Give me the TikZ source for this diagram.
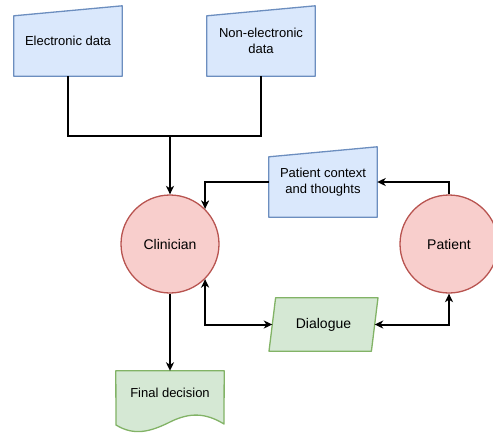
\documentclass[tikz,border=0pt]{standalone}
\usepackage{fontspec}
\setmainfont{Liberation Sans}
\usetikzlibrary{arrows.meta,calc}
\definecolor{bluefill}{HTML}{DAE8FC}
\definecolor{bluedraw}{HTML}{6C8EBF}
\definecolor{redfill}{HTML}{F8CECC}
\definecolor{reddraw}{HTML}{B85450}
\definecolor{greenfill}{HTML}{D5E8D4}
\definecolor{greendraw}{HTML}{82B366}
\begin{document}
\begin{tikzpicture}[x=1pt,y=-1pt,
  databox/.style={minimum width=108pt,minimum height=70pt,inner sep=0pt,align=center,
    font=\fontsize{13}{16.5}\selectfont},
  actor/.style={circle,draw=reddraw,fill=redfill,line width=1.3pt,minimum size=98pt,
    inner sep=0pt,font=\fontsize{14}{17}\selectfont},
  blueshape/.style={draw=bluedraw,fill=bluefill,line width=1.3pt,line join=round},
  greenshape/.style={draw=greendraw,fill=greenfill,line width=1.3pt,line join=round},
  flow/.style={line width=2pt,black},
  tip/.style={-{Stealth[length=8.5pt,width=8pt,inset=2.5pt]}},
  twotip/.style={{Stealth[length=8.5pt,width=8pt,inset=2.5pt]}-{Stealth[length=8.5pt,width=8pt,inset=2.5pt]}}]
\useasboundingbox (0,0) rectangle (493,432);

% manual-input data sources
\node[databox] (ed) at (68,41) {};
\node[databox] (ned) at (261,41) {};
\node[databox] (pc) at (323,182) {};
\foreach \n in {ed,ned,pc}
  \fill[blueshape] (\n.south west) -- ($(\n.north west)+(0,10)$) -- (\n.north east)
    -- (\n.south east) -- cycle;
\node[databox] at (ed) {Electronic data};
\node[databox] at (ned) {Non-electronic\\data};
\node[databox] at (pc) {Patient context\\and thoughts};

% actors
\node[actor] (cl) at (170,244) {Clinician};
\node[actor] (pt) at (449,244) {Patient};

% dialogue (parallelogram)
\node[minimum width=102pt,minimum height=53pt,inner sep=0pt] (dl) at (323.5,324.5) {};
\fill[greenshape] ($(dl.south west)+(-3.3,0)$) -- ($(dl.north west)+(3.3,0)$)
  -- ($(dl.north east)+(3.3,0)$) -- ($(dl.south east)+(-3.3,0)$) -- cycle;
\node[font=\fontsize{14}{17}\selectfont] at (dl) {Dialogue};

% final decision (document)
\node[databox,minimum height=44pt] (fd) at (170,393) {};
\fill[greenshape] (fd.north west) -- (fd.north east) -- (224,424)
  .. controls (206,413) and (190,412) .. (170,422)
  .. controls (150,432) and (134,436) .. (116,425) -- cycle;
\node[databox,minimum height=44pt] at (fd) {Final decision};

% connectors
\coordinate (j) at (170,136);
\draw[flow,line join=miter] (ed.south) |- (j) -| (ned.south);
\draw[flow,tip] (j) -- (cl.north);
\draw[flow,tip] (pt.north) |- (pc.east);
\draw[flow,tip] (pc.west) -| (cl.north east);
\draw[flow,twotip] (cl.south east) |- (dl.west);
\draw[flow,twotip] (dl.east) -| (pt.south);
\draw[flow,tip] (cl.south) -- (fd.north);
\end{tikzpicture}
\end{document}
